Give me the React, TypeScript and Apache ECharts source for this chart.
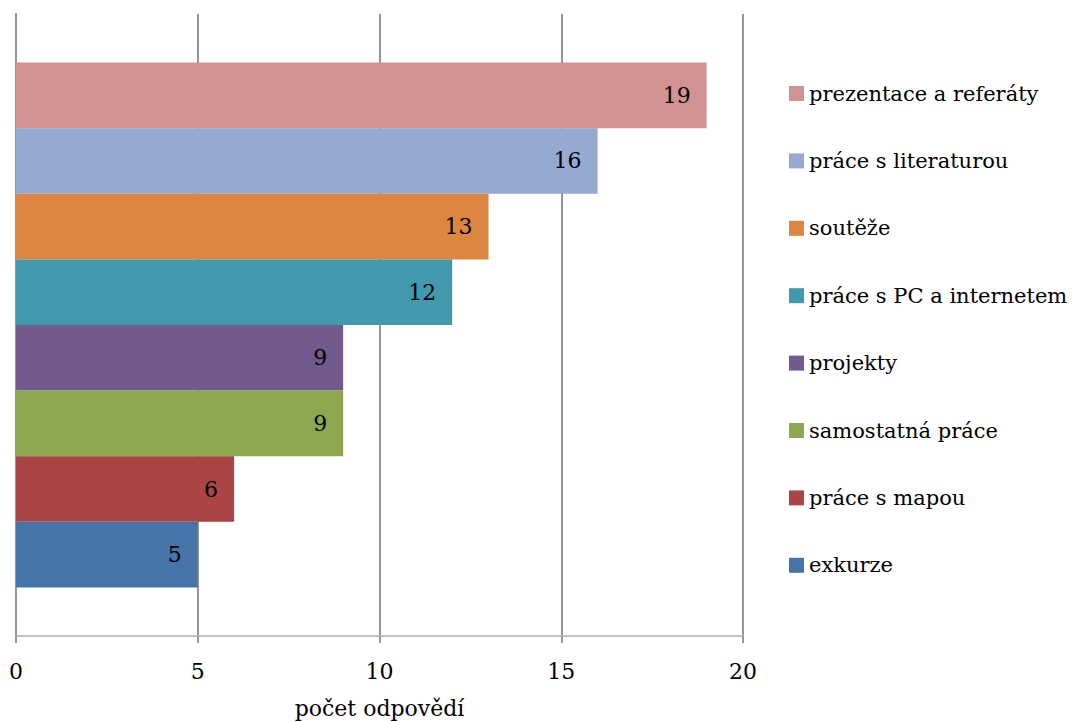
import React, { useEffect, useRef } from "react";
import * as echarts from "echarts";

const seriesNames = [
  "exkurze",
  "práce s mapou",
  "samostatná práce",
  "projekty",
  "práce s PC a internetem",
  "soutěže",
  "práce s literaturou",
  "prezentace a referáty",
];
const seriesValues = [5, 6, 9, 9, 12, 13, 16, 19];
const seriesColors = [
  "#4674A8",
  "#A94545",
  "#8CA74D",
  "#72598E",
  "#4299AE",
  "#DD8642",
  "#95A9D2",
  "#D19392",
];
const xTicks = [0, 5, 10, 15, 20];
const axisTitle = "počet odpovědí";

const FONT = "DejaVu Serif";

export default function App() {
  const ref = useRef<HTMLDivElement>(null);
  useEffect(() => {
    if (!ref.current) return;
    const chart = echarts.init(ref.current, null, { renderer: "svg" });
    // ECharts draws the first series at the top of a horizontal band, so go top-down
    const order = seriesNames.map((_, i) => seriesNames.length - 1 - i);
    chart.setOption({
      animation: false,
      textStyle: { fontFamily: FONT },
      grid: {
        left: 8,
        right: 325,
        top: 6,
        bottom: 86,
        containLabel: false,
        outerBoundsMode: "none",
      },
      legend: {
        orient: "vertical",
        left: 776,
        top: 70,
        itemWidth: 15,
        itemHeight: 15,
        itemGap: 46.4,
        icon: "rect",
        data: order.map((i) => seriesNames[i]),
        textStyle: { fontFamily: FONT, fontSize: 21, lineHeight: 21, color: "#000" },
      },
      xAxis: {
        type: "value",
        min: xTicks[0],
        max: xTicks[xTicks.length - 1],
        interval: 5,
        name: axisTitle,
        nameLocation: "middle",
        nameGap: 61,
        nameTextStyle: { fontFamily: FONT, fontSize: 22, color: "#000" },
        axisLine: { show: true, lineStyle: { color: "#BFBFBF", width: 2 } },
        axisTick: { show: true, length: 7, lineStyle: { color: "#969696", width: 2 } },
        axisLabel: { fontFamily: FONT, fontSize: 22, color: "#000", margin: 24 },
        splitLine: { show: true, lineStyle: { color: "#969696", width: 2 } },
      },
      yAxis: {
        type: "category",
        data: [""],
        axisLine: { show: true, lineStyle: { color: "#969696", width: 2 } },
        axisTick: { show: false },
        axisLabel: { show: false },
      },
      series: order.map((i) => ({
        type: "bar",
        name: seriesNames[i],
        data: [seriesValues[i]],
        barGap: "0%",
        barCategoryGap: "15.6%",
        itemStyle: { color: seriesColors[i] },
        label: {
          show: true,
          position: "insideRight",
          distance: 16,
          fontFamily: FONT,
          fontSize: 22,
          color: "#000",
        },
      })),
    });
    return () => chart.dispose();
  }, []);
  return <div ref={ref} style={{ width: 1060, height: 714 }} />;
}
